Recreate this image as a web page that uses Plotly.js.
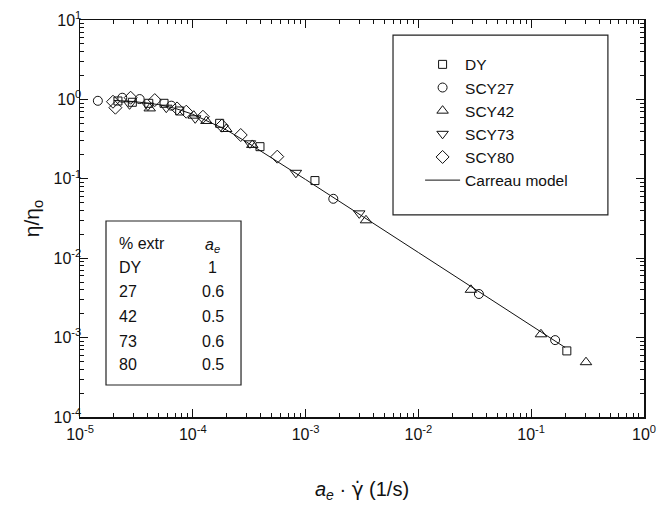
<!DOCTYPE html>
<html>
<head>
<meta charset="utf-8">
<script src="https://cdn.plot.ly/plotly-3.0.1.min.js"></script>
<style>
  html, body { margin: 0; padding: 0; background: #fff; }
  #chart { width: 660px; height: 508px; }
</style>
</head>
<body>
<div id="chart"></div>
<script>
// Reduced viscosity versus shifted shear rate, master curve
const dyX    = [2.17e-5, 2.91e-5, 4.07e-5, 5.56e-5, 7.65e-5, 1.73e-4, 3.94e-4, 1.21e-3, 0.207];
const dyY    = [0.955, 0.92, 0.893, 0.893, 0.715, 0.50, 0.254, 0.095, 6.8e-4];

const scy27X = [1.44e-5, 2.37e-5, 3.38e-5, 6.45e-5, 1.76e-3, 0.0344, 0.163];
const scy27Y = [0.96, 1.05, 1.01, 0.834, 0.056, 3.54e-3, 9.3e-4];

const scy42X = [4.15e-5, 1.02e-4, 1.32e-4, 1.98e-4, 3.37e-4, 3.43e-3, 0.0292, 0.122, 0.306];
const scy42Y = [0.77, 0.624, 0.535, 0.424, 0.267, 0.030, 4.0e-3, 1.1e-3, 4.9e-4];

const scy73X = [2.75e-5, 4.0e-5, 5.82e-5, 1.05e-4, 3.21e-4, 8.2e-4, 2.99e-3];
const scy73Y = [0.867, 0.834, 0.786, 0.578, 0.28, 0.119, 0.0367];

const scy80X = [1.96e-5, 2.06e-5, 2.81e-5, 4.6e-5, 7.25e-5, 8.75e-5, 1.23e-4, 1.81e-4, 2.66e-4, 5.61e-4];
const scy80Y = [0.935, 0.786, 1.05, 0.98, 0.77, 0.70, 0.605, 0.467, 0.356, 0.19];

// Carreau model curve
const modelX = [2e-5, 3e-5, 5e-5, 7e-5, 1e-4, 1.5e-4, 2e-4, 3e-4, 5e-4, 1e-3, 1e-2, 0.1, 0.2];
const modelY = [0.97, 0.94, 0.86, 0.77, 0.65, 0.50, 0.41, 0.29, 0.185, 0.098, 0.0118, 1.42e-3, 7.5e-4];

// Axis ticks
const xTickVals = [1e-5, 1e-4, 1e-3, 1e-2, 1e-1, 1];
const xTickText = ['10<sup>-5</sup>', '10<sup>-4</sup>', '10<sup>-3</sup>', '10<sup>-2</sup>', '10<sup>-1</sup>', '10<sup>0</sup>'];
const yTickVals = [1e-4, 1e-3, 1e-2, 1e-1, 1, 10];
const yTickText = ['10<sup>-4</sup>', '10<sup>-3</sup>', '10<sup>-2</sup>', '10<sup>-1</sup>', '10<sup>0</sup>', '10<sup>1</sup>'];

// Inset table: extrudate fraction and shift factor
const tableExtr = ['DY', '27', '42', '73', '80'];
const tableAe   = ['1', '0.6', '0.5', '0.6', '0.5'];

const FONT = 'Liberation Sans, Arial, sans-serif';

// minor tick positions 2..9 within each decade
function minorTicks(lo, hi) {
  const v = [];
  for (let d = lo; d < hi; d++) {
    for (let k = 2; k <= 9; k++) v.push(k * Math.pow(10, d));
  }
  return v;
}

function markerTrace(x, y, name, symbol, size) {
  return {
    x: x, y: y, name: name, type: 'scatter', mode: 'markers',
    marker: { symbol: symbol, size: size, color: '#111',
              line: { color: '#111', width: 1 } },
    cliponaxis: false
  };
}

const traces = [
  markerTrace(dyX, dyY, 'DY', 'square-open', 8),
  markerTrace(scy27X, scy27Y, 'SCY27', 'circle-open', 9),
  markerTrace(scy42X, scy42Y, 'SCY42', 'triangle-up-open', 10),
  markerTrace(scy73X, scy73Y, 'SCY73', 'triangle-down-open', 10),
  markerTrace(scy80X, scy80Y, 'SCY80', 'diamond-open', 10),
  { x: modelX, y: modelY, name: 'Carreau model', type: 'scatter', mode: 'lines',
    line: { color: '#111', width: 1 } }
];

// Table text as annotations
const colLeft = 0.0651, colRight = 0.2358;
const rowY = [0.4375, 0.3778, 0.3149, 0.2544, 0.1914, 0.1310];
const annotations = [
  { text: '% extr', x: colLeft, y: rowY[0], xanchor: 'left' },
  { text: '<i>a<sub>e</sub></i>', x: colRight, y: rowY[0] - 0.006, xanchor: 'center' }
];
tableExtr.forEach((t, i) => {
  annotations.push({ text: t, x: colLeft, y: rowY[i + 1], xanchor: 'left' });
  annotations.push({ text: tableAe[i], x: colRight, y: rowY[i + 1], xanchor: 'center' });
});
annotations.forEach(a => {
  a.xref = 'paper'; a.yref = 'paper'; a.yanchor = 'middle'; a.showarrow = false;
  a.font = { family: FONT, size: 16, color: '#111' };
});

const axisCommon = {
  type: 'log',
  showline: true, linecolor: '#111', linewidth: 1.5,
  mirror: 'allticks',
  ticks: 'inside', ticklen: 8, tickwidth: 1, tickcolor: '#111',
  showgrid: false, zeroline: false,
  tickfont: { family: FONT, size: 16, color: '#111' }
};

const layout = {
  width: 660, height: 508,
  margin: { l: 80, r: 16, t: 20, b: 91 },
  paper_bgcolor: '#fff', plot_bgcolor: '#fff',
  font: { family: FONT, color: '#111' },
  xaxis: Object.assign({}, axisCommon, {
    range: [-5, 0],
    tickmode: 'array', tickvals: xTickVals, ticktext: xTickText,
    ticklabelstandoff: 2,
    minor: { tickmode: 'array', tickvals: minorTicks(-5, 0), ticks: 'inside', ticklen: 4,
             tickwidth: 1, tickcolor: '#111', showgrid: false },
    title: { text: '<i>a</i><sub><i>e</i></sub> · <span style="font-family:DejaVu Sans">γ̇</span> (1/s)',
             font: { family: FONT, size: 20, color: '#111' }, standoff: 40 }
  }),
  yaxis: Object.assign({}, axisCommon, {
    range: [-4, 1],
    tickmode: 'array', tickvals: yTickVals, ticktext: yTickText,
    ticklabelstandoff: -6,
    minor: { tickmode: 'array', tickvals: minorTicks(-4, 1), ticks: 'inside', ticklen: 4,
             tickwidth: 1, tickcolor: '#111', showgrid: false },
    title: { text: 'η/η<sub>o</sub>', font: { family: FONT, size: 21, color: '#111' }, standoff: 8 }
  }),
  showlegend: true,
  legend: {
    x: 0.603, y: 0.93, xanchor: 'left', yanchor: 'top',
    bgcolor: 'rgba(0,0,0,0)', borderwidth: 0,
    itemwidth: 35,
    font: { family: FONT, size: 15.5, color: '#111' }
  },
  shapes: [
    { type: 'rect', xref: 'paper', yref: 'paper', x0: 0.555, x1: 0.936, y0: 0.509, y1: 0.962,
      line: { color: '#222', width: 1.2 }, fillcolor: 'rgba(0,0,0,0)' },
    { type: 'rect', xref: 'paper', yref: 'paper', x0: 0.0461, x1: 0.2855, y0: 0.0806, y1: 0.4937,
      line: { color: '#222', width: 1.2 }, fillcolor: 'rgba(0,0,0,0)' }
  ],
  annotations: annotations
};

Plotly.newPlot('chart', traces, layout, { staticPlot: true, displayModeBar: false });
</script>
</body>
</html>
